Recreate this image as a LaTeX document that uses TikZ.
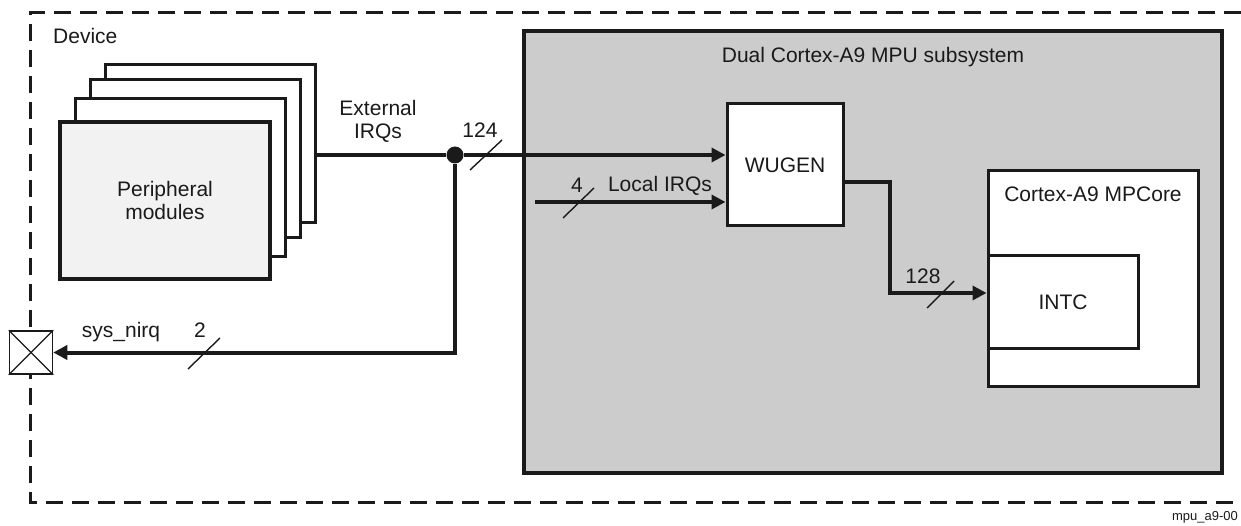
\documentclass[tikz,border=0pt]{standalone}
\usepackage{fontspec}
\setmainfont{Liberation Sans}
\usetikzlibrary{arrows.meta,calc}
\definecolor{ink}{HTML}{1A1A1A}
\definecolor{subsys}{HTML}{CCCCCC}
\definecolor{frontfill}{HTML}{F2F2F2}
\begin{document}
\begin{tikzpicture}[x=1pt,y=-1pt,
  txt/.style={text=ink,font=\fontsize{21}{25}\selectfont,inner sep=0pt},
  backbox/.style={draw=ink,fill=white,line width=3pt,minimum width=210pt,minimum height=158pt,inner sep=0pt},
  frontbox/.style={draw=ink,fill=frontfill,line width=4.3pt,minimum width=210pt,minimum height=157pt,inner sep=0pt,align=center,text=ink,font=\fontsize{21}{25}\selectfont},
  whitebox/.style={draw=ink,fill=white,line width=3pt,inner sep=0pt},
  conn/.style={draw=ink,line width=4pt,-{Triangle[length=14pt,width=14pt]}},
  wire/.style={draw=ink,line width=4pt},
  slashmark/.style={draw=ink,line width=1.4pt},
  devborder/.style={draw=ink,line width=3pt,dash pattern=on 17pt off 9pt}
]
\useasboundingbox (0,0) rectangle (1241,526);

% device border
\draw[devborder] (1241,13) -- (30,13) -- (30,502) -- (1241,502);
\node[txt,anchor=west] (device) at (53,36) {Device};

% peripheral stack
\node[backbox] (per4) at (210,144) {};
\node[backbox] (per3) at (195,159) {};
\node[backbox] (per2) at (180,178) {};
\node[frontbox] (per1) at (165,200.5) {Peripheral\\[-2pt]modules};

% MPU subsystem
\node[draw=ink,fill=subsys,line width=4.5pt,minimum width=698pt,minimum height=442pt,inner sep=0pt] (mpu) at (873,252) {};
\node[txt] (mputitle) at (873,57) {Dual Cortex-A9 MPU subsystem};

% WUGEN
\node[whitebox,minimum width=116pt,minimum height=122pt,text=ink,font=\fontsize{21}{25}\selectfont] (wugen) at (785,165) {WUGEN};

% Cortex-A9 MPCore and INTC
\node[whitebox,minimum width=210pt,minimum height=215pt] (mpcore) at (1093,278.5) {};
\node[txt] (mpcoretitle) at (1093,194) {Cortex-A9 MPCore};
\node[whitebox,minimum width=150pt,minimum height=92pt,text=ink,font=\fontsize{21}{25}\selectfont] (intc) at (1063,302) {INTC};

% pad
\node[draw=ink,fill=white,line width=1.5pt,minimum size=43pt,inner sep=0pt] (pad) at (31,352.5) {};
\draw[ink,line width=1.2pt] (pad.north west) -- (pad.south east);
\draw[ink,line width=1.2pt] (pad.south west) -- (pad.north east);

% junction
\node[circle,fill=ink,inner sep=0pt,minimum size=17pt] (jn) at (455,155) {};

% connectors
\draw[wire] (per4.east |- jn) -- (jn);
\draw[conn] (jn) -- (jn -| wugen.west);
\draw[conn] (jn) |- (pad.east);
\coordinate (lstart) at (535,202);
\draw[conn] (lstart) -- (lstart -| wugen.west);
\coordinate (wout) at ($(wugen.east)+(0,17)$);
\coordinate (intcin) at ($(intc.west)+(0,-9)$);
\draw[conn] (wout) -- ++(45,0) |- (intcin);

% bus-width slashes
\draw[slashmark] (470,170) -- (502,140);
\draw[slashmark] (563,218) -- (594,188);
\draw[slashmark] (927,308) -- (954,281);
\draw[slashmark] (188,369) -- (220,338);

% labels
\node[txt,align=center] (extlbl) at (378,121) {External\\[-2pt]IRQs};
\node[txt] (lbl124) at (480,130) {124};
\node[txt] (lbl4) at (577,185) {4};
\node[txt] (lbllocal) at (660,186) {Local IRQs};
\node[txt] (lbl128) at (923,276) {128};
\node[txt] (lbl2) at (200,330) {2};
\node[txt] (lblsys) at (121,332) {sys\_nirq};
\node[text=ink,font=\fontsize{13}{15}\selectfont,inner sep=0pt,anchor=base east] (figid) at (1238,520) {mpu\_a9-00};
\end{tikzpicture}
\end{document}
